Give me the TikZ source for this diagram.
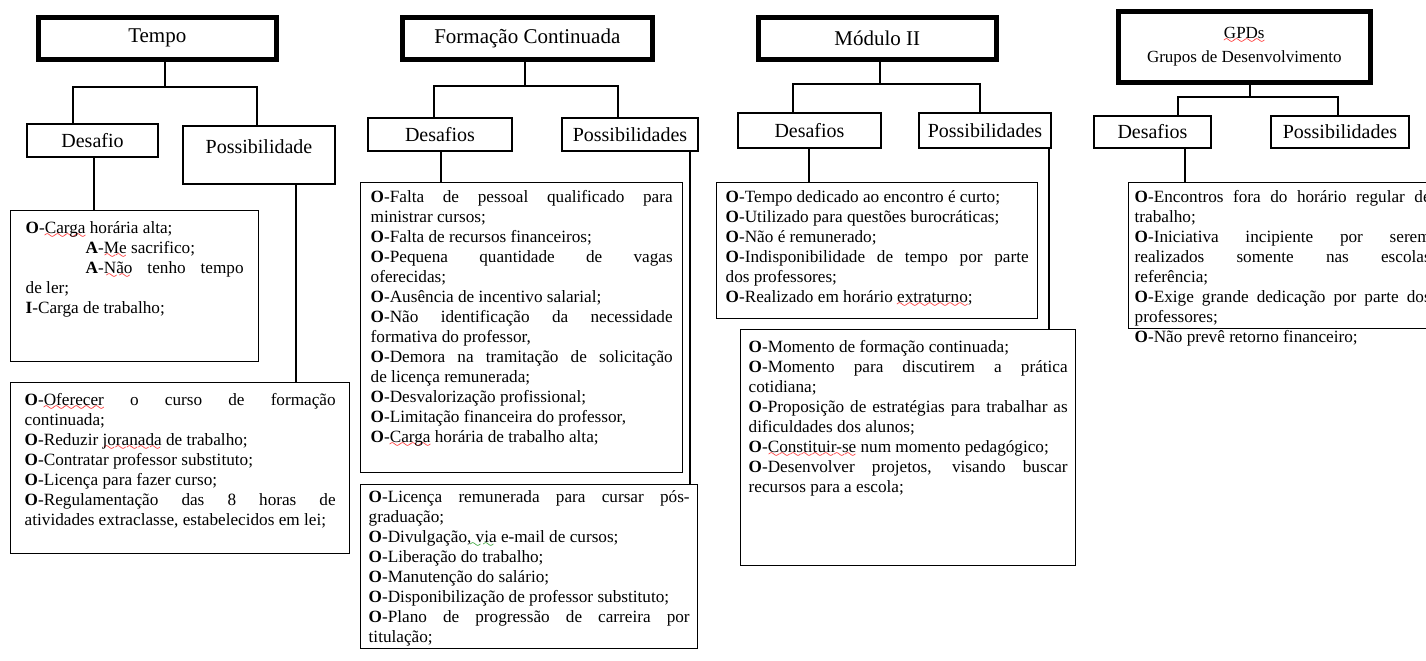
\documentclass[tikz,border=0pt]{standalone}
\usepackage{fontspec}
\setmainfont{Liberation Serif}
\font\wavefont=lasy6
\newsavebox\wavebox
\newcommand\wavy[2]{\sbox\wavebox{#2}\rlap{\textcolor{#1}{\lower2.4pt\hbox to\wd\wavebox{\xleaders\hbox{\wavefont\char58}\hfil}}}\usebox\wavebox}
\newcommand\redwave[1]{\wavy{red}{#1}}
\newcommand\greenwave[1]{\wavy{green!55!black}{#1}}
% text box: first-line offset, width, height, content
\newcommand{\tbox}[4]{\parbox[t][#3][t]{#2}{\tolerance=10000\rule{0pt}{#1}#4}}
\hyphenpenalty=10000
\exhyphenpenalty=10000
\tikzset{%
  ttl/.style={draw,line width=2.3pt,anchor=north west,inner sep=0pt,align=center,font=\fontsize{10.5}{11}\selectfont},
  hdr/.style={draw,line width=1pt,anchor=north west,inner sep=0pt,font=\fontsize{10}{12}\selectfont},
  txt/.style={draw,line width=0.7pt,anchor=north west,inner ysep=0pt,inner xsep=4pt,font=\fontsize{8.6}{10}\selectfont},
  lnk/.style={line width=0.7pt}
}
\begin{document}
\begin{tikzpicture}[x=0.5pt,y=-0.5pt]
  \useasboundingbox (0,0) rectangle (1426,660);
  \clip (0,0) rectangle (1426,660);
  \fill[white] (0,0) rectangle (1426,660);

  % Tempo
  \node[ttl,minimum width=119pt,minimum height=21pt] (tempo) at (36,15) {Tempo};
  \node[hdr,minimum width=65.5pt,minimum height=16.5pt] (tdes) at (26,123) {Desafio};
  \node[hdr,minimum width=76pt,text height=13.5pt,text depth=15.5pt] (tpos) at (182,125) {Possibilidade};
  \node[txt,inner xsep=7.5pt] (tdestxt) at (10,210) {\tbox{11.5pt}{109pt}{75.5pt}{%
    \textbf{O}-\redwave{Carga} horária alta;\par
    \hspace*{30pt}\textbf{A}-\redwave{Me} sacrifico;\par
    \hspace*{30pt}\textbf{A}-\redwave{Não} tenho tempo\linebreak de ler;\par
    \textbf{I}-Carga de trabalho;}};
  \node[txt,inner xsep=7pt] (tpostxt) at (10,382) {\tbox{11.5pt}{155.5pt}{85.5pt}{%
    \textbf{O}-\redwave{Oferecer} o curso de formação\linebreak continuada;\par
    \textbf{O}-Reduzir \redwave{joranada} de trabalho;\par
    \textbf{O}-Contratar professor substituto;\par
    \textbf{O}-Licença para fazer curso;\par
    \textbf{O}-Regulamentação das 8 horas de\linebreak atividades extraclasse, estabelecidos em lei;}};
  \coordinate (tj) at (165,87);
  \coordinate (tjl) at (73,87);
  \coordinate (tjr) at (257,87);
  \coordinate (tk) at (94,0);
  \coordinate (tm) at (296,0);
  \draw[lnk] (tempo.south -| tj) -- (tj);
  \draw[lnk] (tdes.north -| tjl) -- (tjl) -- (tjr) -- (tpos.north -| tjr);
  \draw[lnk] (tdes.south -| tk) -- (tdestxt.north -| tk);
  \draw[lnk] (tpos.south -| tm) -- (tpostxt.north -| tm);

  % Formacao Continuada
  \node[ttl,minimum width=125pt,minimum height=21pt] (form) at (400,15) {Formação Continuada};
  \node[hdr,minimum width=72pt,minimum height=16.5pt] (fdes) at (367,117) {Desafios};
  \node[hdr,minimum width=68pt,minimum height=16.5pt] (fpos) at (561,117) {Possibilidades};
  \node[txt,inner xsep=5pt] (fdestxt) at (360,182) {\tbox{10pt}{151pt}{145pt}{%
    \textbf{O}-Falta de pessoal qualificado para\linebreak ministrar cursos;\par
    \textbf{O}-Falta de recursos financeiros;\par
    \textbf{O}-Pequena quantidade de vagas\linebreak oferecidas;\par
    \textbf{O}-Ausência de incentivo salarial;\par
    \textbf{O}-Não identificação da necessidade\linebreak formativa do professor,\par
    \textbf{O}-Demora na tramitação de solicitação\linebreak de licença remunerada;\par
    \textbf{O}-Desvalorização profissional;\par
    \textbf{O}-Limitação financeira do professor,\par
    \textbf{O}-\redwave{Carga} horária de trabalho alta;}};
  \node[txt,inner xsep=4pt] (fpostxt) at (360,484) {\tbox{9pt}{160.5pt}{82pt}{%
    \textbf{O}-Licença remunerada para cursar pós-\linebreak graduação;\par
    \textbf{O}-Divulgação\greenwave{, via} e-mail de cursos;\par
    \textbf{O}-Liberação do trabalho;\par
    \textbf{O}-Manutenção do salário;\par
    \textbf{O}-Disponibilização de professor substituto;\par
    \textbf{O}-Plano de progressão de carreira por\linebreak titulação;}};
  \coordinate (fj) at (525,86);
  \coordinate (fjl) at (434,86);
  \coordinate (fjr) at (618,86);
  \coordinate (fk) at (441,0);
  \coordinate (fm) at (690,0);
  \draw[lnk] (form.south -| fj) -- (fj);
  \draw[lnk] (fdes.north -| fjl) -- (fjl) -- (fjr) -- (fpos.north -| fjr);
  \draw[lnk] (fdes.south -| fk) -- (fdestxt.north -| fk);
  \draw[lnk] (fpos.south -| fm) -- (fpostxt.north -| fm);

  % Modulo II
  \node[ttl,minimum width=119pt,minimum height=21pt] (mod) at (756,15) {Módulo II};
  \node[hdr,minimum width=71.5pt,minimum height=17.5pt] (mdes) at (737,112) {Desafios};
  \node[hdr,minimum width=66pt,minimum height=17.5pt] (mpos) at (918,112) {Possibilidades};
  \node[txt,inner xsep=4.5pt] (mdestxt) at (716,182) {\tbox{10pt}{151.5pt}{68pt}{%
    \textbf{O}-Tempo dedicado ao encontro é curto;\par
    \textbf{O}-Utilizado para questões burocráticas;\par
    \textbf{O}-Não é remunerado;\par
    \textbf{O}-Indisponibilidade de tempo por parte\linebreak dos professores;\par
    \textbf{O}-Realizado em horário \redwave{extraturno};}};
  \node[txt,inner xsep=4pt] (mpostxt) at (740,329) {\tbox{11.5pt}{159.5pt}{118pt}{%
    \textbf{O}-Momento de formação continuada;\par
    \textbf{O}-Momento para discutirem a prática\linebreak cotidiana;\par
    \textbf{O}-Proposição de estratégias para trabalhar as\linebreak dificuldades dos alunos;\par
    \textbf{O}-\redwave{Constituir-se} num momento pedagógico;\par
    \textbf{O}-Desenvolver projetos, visando buscar\linebreak recursos para a escola;}};
  \coordinate (mj) at (880,84);
  \coordinate (mjl) at (793,84);
  \coordinate (mjr) at (980,84);
  \coordinate (mk) at (809,0);
  \coordinate (mm) at (1049,0);
  \draw[lnk] (mod.south -| mj) -- (mj);
  \draw[lnk] (mdes.north -| mjl) -- (mjl) -- (mjr) -- (mpos.north -| mjr);
  \draw[lnk] (mdes.south -| mk) -- (mdestxt.north -| mk);
  \draw[lnk] (mpos.south -| mm) -- (mpostxt.north -| mm);

  % GPDs
  \node[ttl,minimum width=126pt,minimum height=35.5pt,font=\fontsize{8.5}{12}\selectfont] (gpd) at (1116,9) {\redwave{GPDs}\\Grupos de Desenvolvimento};
  \node[hdr,minimum width=58.5pt,minimum height=16pt] (gdes) at (1093,115) {Desafios};
  \node[hdr,minimum width=69pt,minimum height=16pt] (gpos) at (1270,115) {Possibilidades};
  \node[txt,inner xsep=3pt] (gdestxt) at (1128,182) {\tbox{10pt}{148pt}{73pt}{%
    \textbf{O}-Encontros fora do horário regular de\linebreak trabalho;\par
    \textbf{O}-Iniciativa incipiente por serem\linebreak realizados somente nas escolas\linebreak referência;\par
    \textbf{O}-Exige grande dedicação por parte dos\linebreak professores;\par
    \textbf{O}-Não prevê retorno financeiro;}};
  \coordinate (gj) at (1250,97);
  \coordinate (gjl) at (1178,97);
  \coordinate (gjr) at (1338,97);
  \coordinate (gk) at (1185,0);
  \draw[lnk] (gpd.south -| gj) -- (gj);
  \draw[lnk] (gdes.north -| gjl) -- (gjl) -- (gjr) -- (gpos.north -| gjr);
  \draw[lnk] (gdes.south -| gk) -- (gdestxt.north -| gk);
\end{tikzpicture}
\end{document}
